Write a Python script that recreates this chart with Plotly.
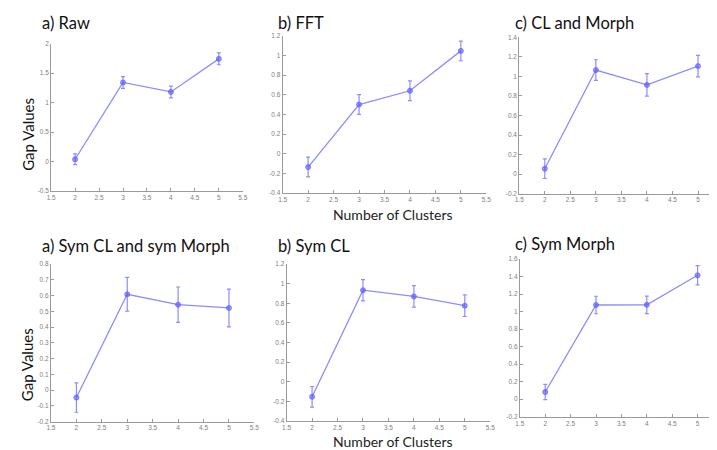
import plotly.graph_objects as go

clusters = [2, 3, 4, 5]

raw_vals = [0.04, 1.34, 1.18, 1.74]
raw_err = [0.09, 0.10, 0.10, 0.10]
fft_vals = [-0.135, 0.50, 0.64, 1.045]
fft_err = [0.10, 0.10, 0.10, 0.10]
clm_vals = [0.055, 1.065, 0.913, 1.105]
clm_err = [0.10, 0.105, 0.115, 0.11]
symclm_vals = [-0.048, 0.608, 0.542, 0.521]
symclm_err = [0.093, 0.107, 0.112, 0.12]
symcl_vals = [-0.153, 0.933, 0.87, 0.775]
symcl_err = [0.105, 0.108, 0.11, 0.11]
symm_vals = [0.082, 1.076, 1.078, 1.415]
symm_err = [0.088, 0.10, 0.10, 0.11]

titles = ["a) Raw", "b) FFT", "c) CL and Morph",
          "a) Sym CL and sym Morph", "b) Sym CL", "c) Sym Morph"]

x_ticks = [1.5, 2, 2.5, 3, 3.5, 4, 4.5, 5, 5.5]
y_ticks_raw = [-0.5, 0, 0.5, 1, 1.5, 2]
y_ticks_fft = [-0.4, -0.2, 0, 0.2, 0.4, 0.6, 0.8, 1, 1.2]
y_ticks_clm = [-0.2, 0, 0.2, 0.4, 0.6, 0.8, 1, 1.2, 1.4]
y_ticks_symclm = [-0.2, -0.1, 0, 0.1, 0.2, 0.3, 0.4, 0.5, 0.6, 0.7, 0.8]
y_ticks_symcl = [-0.4, -0.2, 0, 0.2, 0.4, 0.6, 0.8, 1, 1.2]
y_ticks_symm = [-0.2, 0, 0.2, 0.4, 0.6, 0.8, 1, 1.2, 1.4, 1.6]

W, H = 717, 450

def fmt(v):
    return "%g" % v

panels = [
    (raw_vals, raw_err, y_ticks_raw, (38.7, 233.0), (32.0, 182.0), 5.5),
    (fft_vals, fft_err, y_ticks_fft, (273.5, 480.0), (24.0, 184.0), 5.5),
    (clm_vals, clm_err, y_ticks_clm, (513.4, 717.0), (25.7, 184.5), 1.5 + (717 - 513.4) / 51.8),
    (symclm_vals, symclm_err, y_ticks_symclm, (38.5, 244.8), (256.0, 416.0), 5.5),
    (symcl_vals, symcl_err, y_ticks_symcl, (277.5, 484.0), (256.0, 415.5), 5.5),
    (symm_vals, symm_err, y_ticks_symm, (514.0, 717.0), (251.0, 411.1), 1.5 + (717 - 514.0) / 51.5),
]

blue = "rgba(95,95,255,0.72)"
axis_col = "#9a9a9a"
tick_font = dict(family="Liberation Sans, Arial", size=6.5, color="#808080")

fig = go.Figure()
layout = dict(width=W, height=H, margin=dict(l=0, r=0, t=0, b=0),
              paper_bgcolor="white", plot_bgcolor="white", showlegend=False)

for i, (vals, err, yt, xpx, ypx, xmax) in enumerate(panels):
    n = i + 1
    xa = "x" if n == 1 else f"x{n}"
    ya = "y" if n == 1 else f"y{n}"
    fig.add_trace(go.Scatter(
        x=clusters, y=vals, xaxis=xa, yaxis=ya, mode="lines+markers",
        line=dict(color=blue, width=1.3),
        marker=dict(symbol="circle", size=5, color="rgba(90,90,255,0.6)",
                    line=dict(color=blue, width=1)),
        error_y=dict(type="data", array=err, visible=True, color=blue,
                     thickness=1.2, width=2),
    ))
    xkey = "xaxis" if n == 1 else f"xaxis{n}"
    ykey = "yaxis" if n == 1 else f"yaxis{n}"
    layout[xkey] = dict(
        domain=[xpx[0] / W, xpx[1] / W], range=[1.5, xmax], anchor=ya,
        tickvals=x_ticks, ticktext=[fmt(v) for v in x_ticks],
        showgrid=False, zeroline=False, showline=True, linecolor=axis_col,
        linewidth=1, ticks="inside", ticklen=3, tickcolor=axis_col,
        tickfont=tick_font, fixedrange=True,
    )
    layout[ykey] = dict(
        domain=[1 - ypx[1] / H, 1 - ypx[0] / H], range=[yt[0], yt[-1]], anchor=xa,
        tickvals=yt, ticktext=[fmt(v) for v in yt],
        showgrid=False, zeroline=False, showline=True, linecolor=axis_col,
        linewidth=1, ticks="inside", ticklen=3, tickcolor=axis_col,
        tickfont=tick_font, fixedrange=True,
    )

fig.update_layout(**layout)

title_pos = [(27, 11), (267, 11), (507, 11), (27, 238), (267, 238), (507, 236)]
for t, (px, py) in zip(titles, title_pos):
    fig.add_annotation(text=t, x=px / W, y=1 - py / H, xref="paper", yref="paper",
                       xanchor="left", yanchor="middle", showarrow=False,
                       font=dict(family="Lato, Open Sans", size=16.5, color="#111"))

for py in (124, 358):
    fig.add_annotation(text="Gap Values", x=15 / W, y=1 - py / H, xref="paper", yref="paper",
                       xanchor="center", yanchor="middle", showarrow=False, textangle=-90,
                       font=dict(family="Lato, Open Sans", size=15, color="#111"))
for py in (206, 436):
    fig.add_annotation(text="Number of Clusters", x=385 / W, y=1 - py / H, xref="paper", yref="paper",
                       xanchor="center", yanchor="middle", showarrow=False,
                       font=dict(family="Lato, Open Sans", size=14, color="#222"))

fig.write_html("out.html")
